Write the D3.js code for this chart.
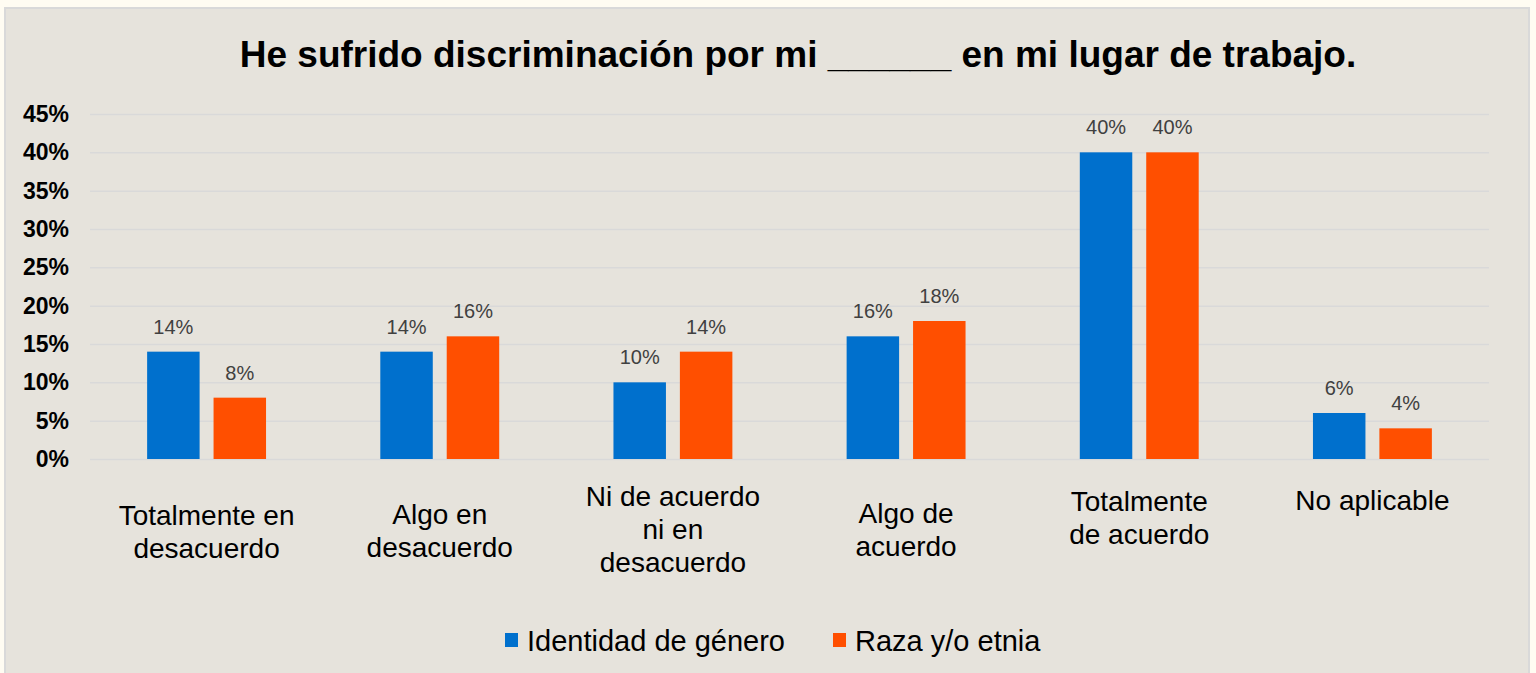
<!DOCTYPE html>
<html>
<head>
<meta charset="utf-8">
<script src="https://cdn.jsdelivr.net/npm/d3@7"></script>
<style>
  html, body { margin: 0; padding: 0; background: #fffcf2; }
  svg { display: block; }
  text { font-family: "Liberation Sans", Arial, sans-serif; }
</style>
</head>
<body>
<svg id="chart"></svg>
<script>
// data
const categories = ["Totalmente en desacuerdo", "Algo en desacuerdo", "Ni de acuerdo ni en desacuerdo", "Algo de acuerdo", "Totalmente de acuerdo", "No aplicable"];
const categoryLines = [["Totalmente en", "desacuerdo"], ["Algo en", "desacuerdo"], ["Ni de acuerdo", "ni en", "desacuerdo"], ["Algo de", "acuerdo"], ["Totalmente", "de acuerdo"], ["No aplicable"]];
const seriesNames = ["Identidad de género", "Raza y/o etnia"];
const genero = [14, 14, 10, 16, 40, 6];
const raza = [8, 16, 14, 18, 40, 4];
const yTicks = [0, 5, 10, 15, 20, 25, 30, 35, 40, 45];
const colors = ["#0070cd", "#ff4f00"];

var w = 1536, h = 673;
var margin = {left: 90, right: 47, top: 114, bottom: 214};

const svg = d3.select("#chart").attr("width", w).attr("height", h);

// chart box
svg.append("rect")
  .attr("x", 5).attr("y", 8)
  .attr("width", 1524).attr("height", 680)
  .attr("fill", "#e6e3dc")
  .attr("stroke", "#d9d9d9")
  .attr("stroke-width", 2);

svg.append("text")
  .attr("x", 798).attr("y", 67)
  .attr("text-anchor", "middle")
  .attr("font-size", 37).attr("font-weight", "bold")
  .attr("fill", "#000")
  .text("He sufrido discriminación por mi ______ en mi lugar de trabajo.");

const x = d3.scaleBand()
  .domain(categories)
  .range([margin.left, w - margin.right]);

const xInner = d3.scaleBand()
  .domain(seriesNames)
  .range([0, x.bandwidth()])
  .paddingInner(0.21)
  .paddingOuter(0.86);

const y = d3.scaleLinear()
  .domain([0, 45])
  .range([h - margin.bottom, margin.top]);

// grid
const yAxis = d3.axisLeft(y)
  .tickValues(yTicks)
  .tickSize(-(w - margin.left - margin.right))
  .tickPadding(21)
  .tickFormat(d => d + "%");

const gy = svg.append("g")
  .attr("transform", `translate(${margin.left},0)`)
  .call(yAxis);
gy.select(".domain").remove();
gy.selectAll(".tick line").attr("stroke", "#d9d9d9").attr("stroke-width", 1.5);
gy.selectAll(".tick text")
  .attr("font-size", 23).attr("font-weight", "bold")
  .attr("fill", "#000")
  .attr("font-family", "Liberation Sans, Arial, sans-serif");

const series = [genero, raza];
const rows = [];
series.forEach((vals, s) => {
  vals.forEach((v, i) => rows.push({cat: categories[i], name: seriesNames[s], value: v, s: s}));
});

const g = svg.append("g");
g.selectAll("rect")
  .data(rows)
  .enter()
  .append("rect")
  .attr("x", d => x(d.cat) + xInner(d.name))
  .attr("width", xInner.bandwidth())
  .attr("y", d => y(d.value))
  .attr("height", d => y(0) - y(d.value))
  .attr("fill", d => colors[d.s]);

g.selectAll("text.lbl")
  .data(rows)
  .enter()
  .append("text")
  .attr("class", "lbl")
  .attr("x", d => x(d.cat) + xInner(d.name) + xInner.bandwidth() / 2)
  .attr("y", d => y(d.value) - 18)
  .attr("text-anchor", "middle")
  .attr("font-size", 20)
  .attr("fill", "#404040")
  .text(d => d.value + "%");

// category labels (Excel centres them a bit differently per category)
const labelTop = [525, 524, 506, 523, 511, 510];
const cg = svg.append("g");
categoryLines.forEach((lines, i) => {
  const t = cg.append("text")
    .attr("x", x(categories[i]) + x.bandwidth() / 2)
    .attr("y", labelTop[i])
    .attr("text-anchor", "middle")
    .attr("font-size", 28)
    .attr("fill", "#000");
  lines.forEach((l, j) => {
    t.append("tspan")
      .attr("x", x(categories[i]) + x.bandwidth() / 2)
      .attr("dy", j == 0 ? 0 : 33)
      .text(l);
  });
});

// legend
const legendX = [505, 833];
const lg = svg.append("g");
seriesNames.forEach((n, i) => {
  lg.append("rect")
    .attr("x", legendX[i]).attr("y", 633)
    .attr("width", 13).attr("height", 14)
    .attr("fill", colors[i]);
  lg.append("text")
    .attr("x", legendX[i] + 22).attr("y", 651)
    .attr("font-size", 29)
    .attr("fill", "#000")
    .text(n);
});
</script>
</body>
</html>
